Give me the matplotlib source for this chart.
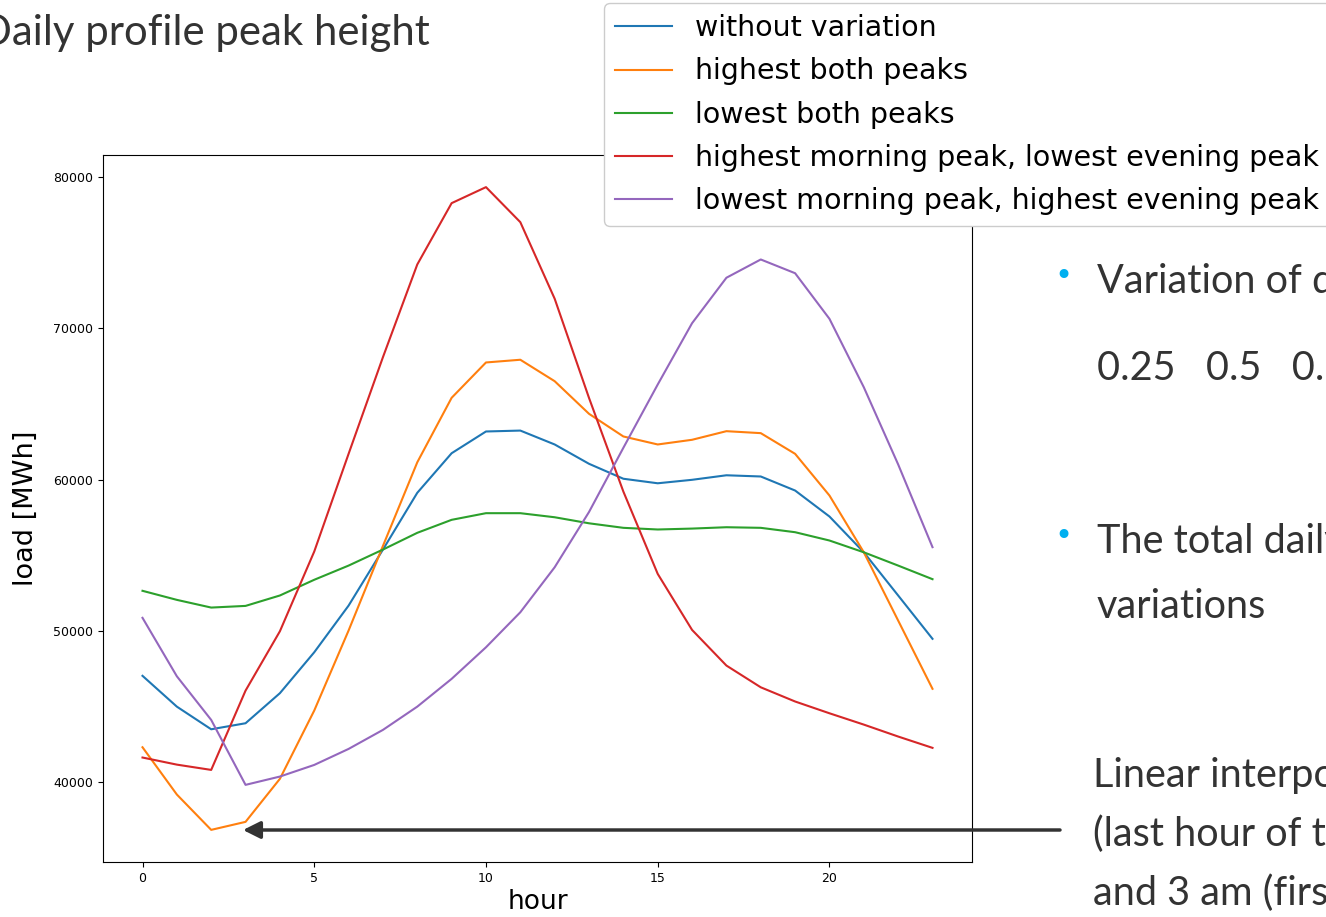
import matplotlib
matplotlib.use("Agg")
import matplotlib.pyplot as plt

# Hourly load profiles for the peak-height variations
hours = list(range(24))
without_variation = [47000, 44960, 43460, 43860, 45850, 48560, 51650, 55360, 59120, 61740, 63180, 63240,
                     62320, 61040, 60050, 59750, 59980, 60280, 60200, 59270, 57550, 55180, 52320, 49450]
highest_both = [42270, 39140, 36800, 37330, 40180, 44700, 50000, 55600, 61140, 65410, 67750, 67930,
                66510, 64350, 62850, 62320, 62630, 63200, 63070, 61700, 58940, 55180, 50660, 46140]
lowest_both = [52630, 52030, 51520, 51630, 52320, 53360, 54300, 55360, 56470, 57330, 57770, 57770,
               57500, 57100, 56800, 56690, 56750, 56840, 56800, 56510, 55960, 55180, 54300, 53400]
high_morning_low_evening = [41590, 41120, 40770, 46020, 49950, 55230, 61700, 68100, 74240, 78300, 79360, 77040,
                            71970, 65400, 59200, 53750, 50040, 47680, 46240, 45300, 44520, 43770, 42980, 42230]
low_morning_high_evening = [50840, 46970, 44080, 39780, 40330, 41100, 42160, 43420, 44960, 46800, 48890, 51210,
                            54190, 57850, 62100, 66290, 70350, 73360, 74570, 73660, 70640, 66110, 61000, 55520]

series_labels = ["without variation", "highest both peaks", "lowest both peaks",
                 "highest morning peak, lowest evening peak", "lowest morning peak, highest evening peak"]
x_ticks = [0, 5, 10, 15, 20]
y_ticks = [40000, 50000, 60000, 70000, 80000]

W, H = 1326, 917
fig = plt.figure(figsize=(W / 100, H / 100), dpi=100)
fig.patch.set_facecolor("white")


def fx(px):
    return px / W


def fy(py):
    return 1 - py / H


ax = fig.add_axes([fx(103), fy(862), fx(972) - fx(103), fy(155) - fy(862)])
lines = []
for values, label in zip([without_variation, highest_both, lowest_both,
                          high_morning_low_evening, low_morning_high_evening], series_labels):
    ln, = ax.plot(hours, values, lw=1.5, label=label)
    lines.append(ln)

ax.set_xticks(x_ticks)
ax.set_yticks(y_ticks)
ax.tick_params(axis="y", labelsize=9)
ax.tick_params(axis="x", labelsize=9)
ax.set_xlabel("hour", fontsize=19, labelpad=3)
ax.set_ylabel("load [MWh]", fontsize=19.5, labelpad=10)

leg = fig.legend(handles=lines, loc="upper left", bbox_to_anchor=(fx(604), fy(3)),
                 bbox_transform=fig.transFigure, fontsize=20.5, labelspacing=0.53,
                 framealpha=1.0, borderaxespad=0, handlelength=2.0)

# Slide text around the chart
text_color = "#333333"
slide_font = "Lato"
fig.text(fx(-20), fy(45), "Daily profile peak height", fontsize=30.2, family=slide_font,
         color=text_color, va="baseline", ha="left")

bullet_color = "#00B0F0"
fig.text(fx(1063), fy(277), "\u2022", fontsize=22, color=bullet_color, ha="center", va="center",
         family="DejaVu Sans")
fig.text(fx(1063), fy(537), "\u2022", fontsize=22, color=bullet_color, ha="center", va="center",
         family="DejaVu Sans")

body = [
    (1097, 293, "Variation of daily peak heights by"),
    (1097, 380, "0.25   0.5   0.75   1"),
    (1097, 553, "The total daily load stays the same for all"),
    (1097, 618, "variations"),
    (1093, 787, "Linear interpolation between 11 pm"),
    (1093, 846, "(last hour of the previous day)"),
    (1093, 905, "and 3 am (first hour of the new profile)"),
]
for x, y, s in body:
    fig.text(fx(x), fy(y), s, fontsize=28.5, family=slide_font, color=text_color,
             va="baseline", ha="left")

fig.add_artist(matplotlib.patches.FancyArrowPatch(
    (fx(1060), fy(830)), (fx(243), fy(830)), transform=fig.transFigure,
    arrowstyle="-|>", mutation_scale=26, color="#333333", lw=2.5,
    shrinkA=0, shrinkB=0))

fig.savefig("out.png", dpi=100)
